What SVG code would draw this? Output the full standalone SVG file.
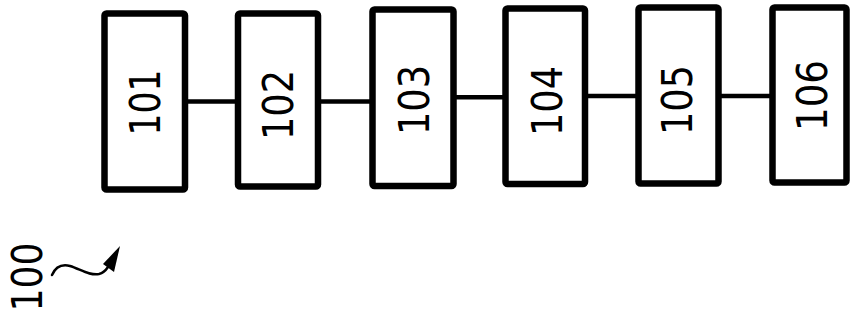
<svg xmlns="http://www.w3.org/2000/svg" width="852" height="322" viewBox="0 0 852 322">
<style>
.box{fill:#fff;stroke:#000;stroke-width:6.5;stroke-linejoin:round}
.conn{stroke:#000;stroke-width:4.5;fill:none}
.lbl{font-family:"DejaVu Sans","Liberation Sans",sans-serif;font-size:42px;fill:#000;text-anchor:middle}
</style>
<rect width="852" height="322" fill="#fff"/>
<g id="connectors">
<line class="conn" x1="185" y1="101.5" x2="238" y2="101.5"/>
<line class="conn" x1="318" y1="101.5" x2="373" y2="101.5"/>
<line class="conn" x1="453" y1="97.2" x2="505" y2="97.2"/>
<line class="conn" x1="585" y1="96" x2="638" y2="96"/>
<line class="conn" x1="718" y1="96" x2="772" y2="96"/>
</g>
<g id="n101"><rect class="box" x="104.5" y="13.5" width="80.5" height="176" rx="2"/><text class="lbl" transform="translate(160,102.5) rotate(-90)" textLength="66" lengthAdjust="spacingAndGlyphs">101</text></g>
<g id="n102"><rect class="box" x="238" y="13.5" width="80" height="173" rx="2"/><text class="lbl" transform="translate(293,105) rotate(-90)" textLength="70" lengthAdjust="spacingAndGlyphs">102</text></g>
<g id="n103"><rect class="box" x="372.5" y="9.5" width="81" height="176.5" rx="2"/><text class="lbl" transform="translate(429,100) rotate(-90)" textLength="70" lengthAdjust="spacingAndGlyphs">103</text></g>
<g id="n104"><rect class="box" x="505.5" y="8.5" width="79.5" height="175.5" rx="2"/><text class="lbl" transform="translate(562,101) rotate(-90)" textLength="70" lengthAdjust="spacingAndGlyphs">104</text></g>
<g id="n105"><rect class="box" x="638.5" y="7.5" width="80" height="176" rx="2"/><text class="lbl" transform="translate(692,100) rotate(-90)" textLength="70" lengthAdjust="spacingAndGlyphs">105</text></g>
<g id="n106"><rect class="box" x="772.5" y="7.5" width="74" height="175" rx="2"/><text class="lbl" transform="translate(827,95.5) rotate(-90)" textLength="71" lengthAdjust="spacingAndGlyphs">106</text></g>
<g id="ref100">
<text class="lbl" transform="translate(42,277) rotate(-90)" textLength="69" lengthAdjust="spacingAndGlyphs">100</text>
<path d="M52,275 C56,266 62,264 70,266 C80,269 90,276 99,274 C103,273 106,270 108,267" fill="none" stroke="#000" stroke-width="2.5" stroke-linecap="round"/>
<polygon points="120,246 103,264 114,272" fill="#000"/>
</g>
</svg>
